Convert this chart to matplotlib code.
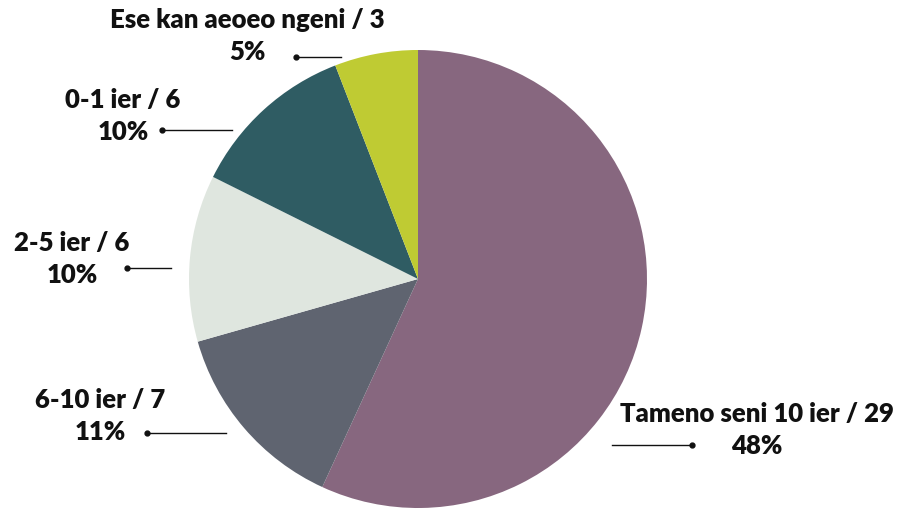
import matplotlib.pyplot as plt

plt.rcParams['font.family'] = ['Lato', 'DejaVu Sans']

labels = ["Tameno seni 10 ier / 29", "6-10 ier / 7", "2-5 ier / 6",
          "0-1 ier / 6", "Ese kan aeoeo ngeni / 3"]
counts = [29, 7, 6, 6, 3]
pct_labels = ["48%", "11%", "10%", "10%", "5%"]
colors = ["#87677f", "#5f6470", "#dfe6df", "#2f5c63", "#bfcb33"]

W, H = 899, 510
fig = plt.figure(figsize=(W / 100, H / 100), dpi=100)
ax = fig.add_axes([0, 0, 1, 1])

cx, cy, r = 418, H - 280, 229
ax.pie(counts, colors=colors, startangle=90, counterclock=False,
       center=(cx, cy), radius=r, frame=True,
       wedgeprops=dict(linewidth=0))
ax.set_xlim(0, W)
ax.set_ylim(0, H)
ax.set_aspect('equal')
ax.axis('off')

# label layout (pixel coords from top): text centre x, first line y, line (dot_x, end_x, y)
layout = [
    (757, 414, 692, 612, 446),
    (100, 400, 147, 226, 434),
    (72, 243, 127, 171, 269),
    (123, 100, 162, 232, 131),
    (247, 20, 296, 341, 58),
]

for (tx, ty, dx, ex, ly), lab, pct in zip(layout, labels, pct_labels):
    ax.text(tx, H - ty, lab, ha='center', va='center', fontsize=18.5,
            fontweight='heavy', color='#111111')
    ax.text(tx, H - ty - 32, pct, ha='center', va='center', fontsize=18.5,
            fontweight='heavy', color='#111111')
    ax.plot([dx, ex], [H - ly, H - ly], color='#111111', lw=1)
    ax.plot([dx], [H - ly], 'o', color='#111111', ms=3.5)

fig.savefig('out.png', dpi=100)
